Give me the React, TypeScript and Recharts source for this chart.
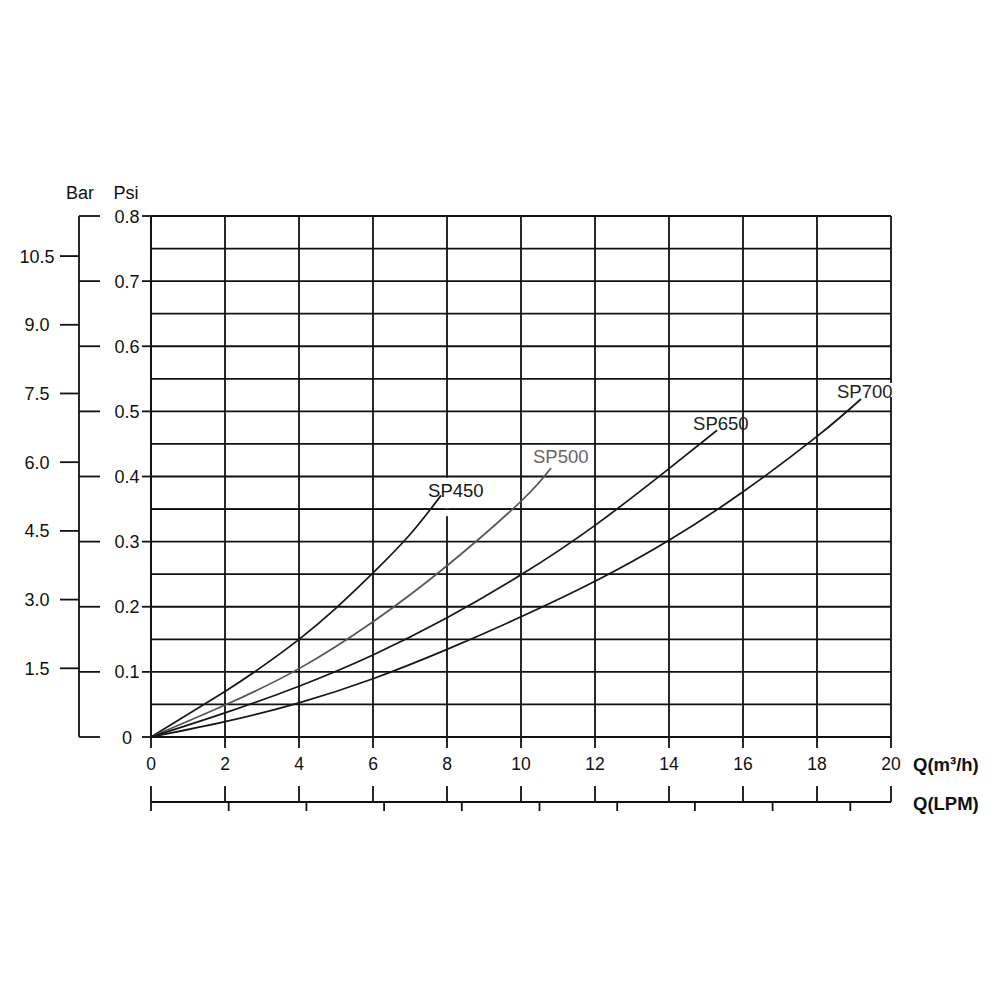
import React from 'react';
import { LineChart, Line, XAxis, YAxis, CartesianGrid, ReferenceLine } from 'recharts';

// ---------- axis ticks ----------
const qTicks = [0, 2, 4, 6, 8, 10, 12, 14, 16, 18, 20];
const lpmTicks = [0, 35, 70, 105, 140, 175, 210, 245, 280, 315];
const psiTicks = [0, 0.05, 0.1, 0.15, 0.2, 0.25, 0.3, 0.35, 0.4, 0.45, 0.5, 0.55, 0.6, 0.65, 0.7, 0.75, 0.8];
const barTicks = [1.5, 3, 4.5, 6, 7.5, 9, 10.5];

// ---------- series values (Q in m3/h, pressure in Psi-axis units) ----------
const sp450Q = [0, 2, 3, 4, 5, 6, 7, 7.84];
const sp450P = [0, 0.07, 0.108, 0.15, 0.198, 0.252, 0.311, 0.371];

const sp500Q = [0, 2, 4, 6, 8, 10, 10.81];
const sp500P = [0, 0.049, 0.105, 0.177, 0.263, 0.362, 0.413];

const sp650Q = [0, 2, 4, 6, 8, 10, 12, 14, 15.3];
const sp650P = [0, 0.037, 0.078, 0.126, 0.183, 0.249, 0.325, 0.412, 0.471];

const sp700Q = [0, 2, 4, 6, 8, 10, 12, 14, 16, 18, 19.19];
const sp700P = [0, 0.0235, 0.0525, 0.0895, 0.1345, 0.1845, 0.239, 0.302, 0.3765, 0.4615, 0.519];

const seriesNames = ['SP450', 'SP500', 'SP650', 'SP700'];

// axis ranges
const qDomain = [0, 20];
const lpmDomain = [0, 1000 / 3];
const psiDomain = [0, 0.8];
const barDomain = [0, 11.375];

const zip = (q: number[], p: number[]) => q.map((v, i) => ({ q: v, p: p[i] }));
const seriesData = [zip(sp450Q, sp450P), zip(sp500Q, sp500P), zip(sp650Q, sp650P), zip(sp700Q, sp700P)];
// invisible helper series so the secondary axes get their ranges
const helperData = [
  { lpm: lpmDomain[0], bar: barDomain[0] },
  { lpm: lpmDomain[1], bar: barDomain[1] },
];

// ---------- styles ----------
const FONT = '"Liberation Sans", Arial, Helvetica, sans-serif';
const INK = '#111';
const GRID_W = 1.8;
const X_Q = 'a1q';
const X_LPM = 'b2lpm';
const Y_PSI = 'a1psi';
const Y_BAR = 'b2bar';
const seriesStyle = [
  { stroke: '#161616', label: '#161616', dx: -13, dy: 2, bg: false },
  { stroke: '#555', label: '#666', dx: -18, dy: -5, bg: false },
  { stroke: '#161616', label: '#222', dx: -24, dy: 0, bg: false },
  { stroke: '#161616', label: '#222', dx: -24, dy: -1, bg: true },
];

const QTick = (props: any) => {
  const { x, y, payload } = props;
  return (
    <g>
      <text x={x} y={y + 22} textAnchor="middle" fontFamily={FONT} fontSize={17.5} fill={INK}>
        {payload.value}
      </text>
      <line x1={x} x2={x} y1={y + 38} y2={y + 54} stroke={INK} strokeWidth={GRID_W} />
    </g>
  );
};

const EmptyTick = () => <g />;

const PsiTick = (props: any) => {
  const { x, y, payload } = props;
  const v = payload.value as number;
  const major = Math.round(v * 100) % 10 === 0;
  if (!major) return <g />;
  const txt = v === 0 ? '0' : v.toFixed(1);
  return (
    <g>
      <text x={x - 24} y={y + 6.5} textAnchor="middle" fontFamily={FONT} fontSize={18} fill={INK}>
        {txt}
      </text>
      <line x1={x - 9} x2={x} y1={y} y2={y} stroke={INK} strokeWidth={GRID_W} />
      <line x1={x - 72} x2={x - 51} y1={y} y2={y} stroke={INK} strokeWidth={GRID_W} />
    </g>
  );
};

const BarTick = (props: any) => {
  const { x, y, payload } = props;
  return (
    <text x={x - 23} y={y + 6.5} textAnchor="middle" fontFamily={FONT} fontSize={18} fill={INK}>
      {(payload.value as number).toFixed(1)}
    </text>
  );
};

const HeaderLabel = (props: any) => {
  const { viewBox, text, dx, dy } = props;
  if (!viewBox) return null;
  return (
    <text x={viewBox.x + viewBox.width + dx} y={viewBox.y + dy} textAnchor="middle" fontFamily={FONT} fontSize={18} fill={INK}>
      {text}
    </text>
  );
};

const XLabel = (props: any) => {
  const { viewBox, text, dx, dy } = props;
  if (!viewBox) return null;
  return (
    <text x={viewBox.x + viewBox.width + dx} y={viewBox.y + dy} textAnchor="start" fontFamily={FONT} fontSize={18.5} fontWeight="bold" fill={INK}>
      {text}
    </text>
  );
};

const makeEndLabel = (si: number) => (props: any) => {
  const { x, y, index } = props;
  if (index !== seriesData[si].length - 1) return <g />;
  const st = seriesStyle[si];
  const tx = x + st.dx;
  const ty = y + st.dy;
  return (
    <g>
      {st.bg && <rect x={tx - 1} y={ty - 15} width={58} height={14} fill="#fff" />}
      <text x={tx} y={ty} fontFamily={FONT} fontSize={18.5} fill={st.label}>
        {seriesNames[si]}
      </text>
    </g>
  );
};

export default function App() {
  return (
    <div style={{ position: 'absolute', left: 0, top: 0, width: 1000, height: 1000, background: '#fff' }}>
      <LineChart width={1000} height={1000} margin={{ top: 216, right: 109, bottom: 168, left: 0 }}>
        <CartesianGrid xAxisId={X_Q} yAxisId={Y_PSI} stroke={INK} strokeWidth={GRID_W} fill="none" />
        <XAxis
          xAxisId={X_Q}
          dataKey="q"
          type="number"
          domain={qDomain}
          allowDataOverflow
          ticks={qTicks}
          height={65}
          tickSize={11}
          tickMargin={0}
          tick={<QTick />}
          axisLine={{ stroke: INK, strokeWidth: GRID_W }}
          tickLine={{ stroke: INK, strokeWidth: GRID_W }}
          label={<XLabel text="Q(m³/h)" dx={22} dy={34} />}
        />
        <XAxis
          xAxisId={X_LPM}
          dataKey="lpm"
          type="number"
          domain={lpmDomain}
          allowDataOverflow
          ticks={lpmTicks}
          height={30}
          tickSize={9}
          tick={<EmptyTick />}
          axisLine={{ stroke: INK, strokeWidth: GRID_W }}
          tickLine={{ stroke: INK, strokeWidth: GRID_W }}
          label={<XLabel text="Q(LPM)" dx={22} dy={8} />}
        />
        <YAxis
          yAxisId={Y_PSI}
          type="number"
          domain={psiDomain}
          allowDataOverflow
          ticks={psiTicks}
          width={72}
          tickSize={0}
          tickMargin={0}
          tickLine={false}
          tick={<PsiTick />}
          axisLine={{ stroke: INK, strokeWidth: GRID_W }}
          label={<HeaderLabel text="Psi" dx={-25} dy={-17} />}
        />
        <YAxis
          yAxisId={Y_BAR}
          type="number"
          domain={barDomain}
          allowDataOverflow
          ticks={barTicks}
          width={79}
          tickSize={19}
          tickMargin={0}
          tick={<BarTick />}
          axisLine={{ stroke: INK, strokeWidth: GRID_W }}
          tickLine={{ stroke: INK, strokeWidth: GRID_W }}
          label={<HeaderLabel text="Bar" dx={1} dy={-17} />}
        />
        <ReferenceLine
          xAxisId={X_Q}
          yAxisId={Y_PSI}
          segment={[{ x: 8, y: 0.339 }, { x: 8, y: 0.398 }]}
          stroke="#fff"
          strokeWidth={4}
        />
        <ReferenceLine xAxisId={X_Q} yAxisId={Y_PSI} y={0.35} stroke={INK} strokeWidth={GRID_W} />
        <Line
          xAxisId={X_LPM}
          yAxisId={Y_BAR}
          data={helperData}
          dataKey="bar"
          stroke="none"
          dot={false}
          activeDot={false}
          legendType="none"
          isAnimationActive={false}
        />
        {seriesData.map((d, si) => (
          <Line
            key={seriesNames[si]}
            xAxisId={X_Q}
            yAxisId={Y_PSI}
            data={d}
            dataKey="p"
            name={seriesNames[si]}
            type="natural"
            stroke={seriesStyle[si].stroke}
            strokeWidth={1.7}
            dot={false}
            activeDot={false}
            isAnimationActive={false}
            label={makeEndLabel(si)}
          />
        ))}
      </LineChart>
    </div>
  );
}
